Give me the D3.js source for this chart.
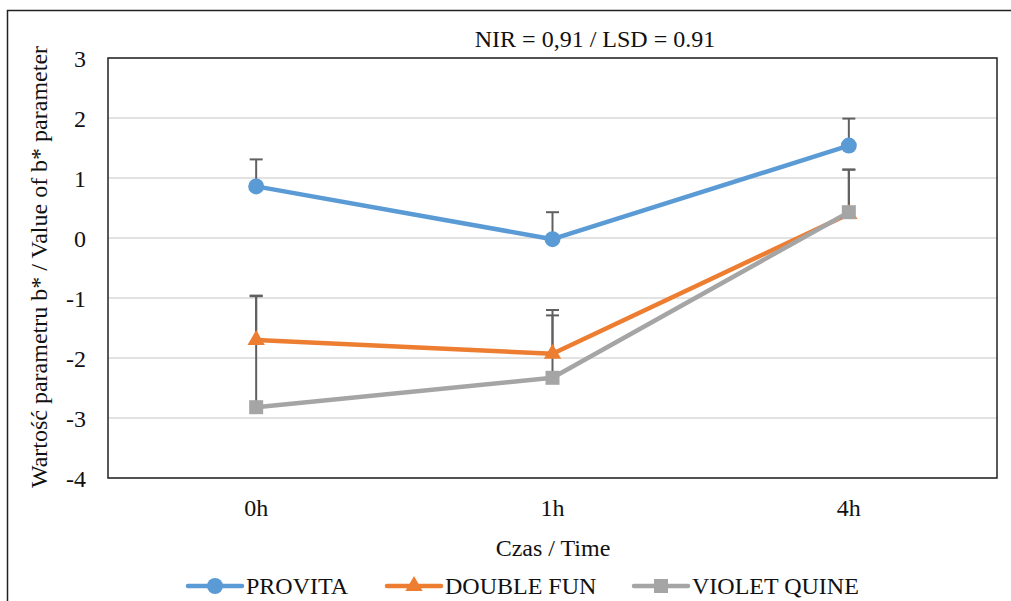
<!DOCTYPE html>
<html>
<head>
<meta charset="utf-8">
<script src="https://d3js.org/d3.v7.min.js"></script>
<style>
  body { margin: 0; background: #fff; }
</style>
</head>
<body>
<div id="chart"></div>
<script>
// data
var times = ['0h', '1h', '4h'];
var seriesNames = ['PROVITA', 'DOUBLE FUN', 'VIOLET QUINE'];
var provita = [0.86, -0.02, 1.54];
var doubleFun = [-1.70, -1.93, 0.40];
var violetQuine = [-2.82, -2.33, 0.43];
// upper error bar lengths
var provitaErr = [0.45, 0.45, 0.45];
var doubleFunErr = [0.74, 0.73, 0.74];
var violetQuineErr = [1.85, 1.04, 0.71];
var yTicks = [3, 2, 1, 0, -1, -2, -3, -4];
var colors = ['#5b9bd5', '#ed7d31', '#a5a5a5'];
var symbols = [d3.symbolCircle, d3.symbolTriangle, d3.symbolSquare];
var symbolSizes = [200, 130, 196];

var series = [
  {name: seriesNames[0], values: provita, err: provitaErr},
  {name: seriesNames[1], values: doubleFun, err: doubleFunErr},
  {name: seriesNames[2], values: violetQuine, err: violetQuineErr}
];

var FONT = 'Liberation Serif';
var width = 1011, height = 601;
var margin = {left: 108, top: 58, right: 14, bottom: 123};

var svg = d3.select('#chart').append('svg')
  .attr('width', width)
  .attr('height', height);

// outer frame
svg.append('rect')
  .attr('x', 7.5).attr('y', 10.5)
  .attr('width', width + 10).attr('height', height + 10)
  .attr('fill', 'none').attr('stroke', '#222').attr('stroke-width', 1.5);

var x = d3.scaleBand()
  .domain(times)
  .range([margin.left, width - margin.right]);

var y = d3.scaleLinear()
  .domain([-4, 3])
  .range([height - margin.bottom, margin.top]);

// gridlines
svg.append('g')
  .selectAll('line')
  .data(yTicks)
  .enter().append('line')
    .attr('x1', margin.left).attr('x2', width - margin.right)
    .attr('y1', d => y(d)).attr('y2', d => y(d))
    .attr('stroke', '#d9d9d9').attr('stroke-width', 1.5);

// plot border
svg.append('rect')
  .attr('x', margin.left).attr('y', margin.top)
  .attr('width', width - margin.right - margin.left)
  .attr('height', height - margin.bottom - margin.top)
  .attr('fill', 'none').attr('stroke', '#222').attr('stroke-width', 1.5);

// y tick labels
var yAxis = svg.append('g')
  .attr('transform', 'translate(' + (margin.left - 22) + ',0)')
  .call(d3.axisLeft(y).tickValues(yTicks).tickSize(0).tickFormat(d => String(d)));
yAxis.select('.domain').remove();
yAxis.selectAll('text')
  .attr('x', 0).attr('dy', '0.35em');

// x tick labels
var xAxis = svg.append('g')
  .attr('transform', 'translate(0,' + (height - margin.bottom + 18) + ')')
  .call(d3.axisBottom(x).tickSize(0));
xAxis.select('.domain').remove();

// titles
svg.append('text')
  .attr('x', 595).attr('y', 47)
  .attr('text-anchor', 'middle')
  .text('NIR = 0,91 / LSD = 0.91');

svg.append('text')
  .attr('x', 553).attr('y', 556)
  .attr('text-anchor', 'middle')
  .text('Czas / Time');

svg.append('text')
  .attr('transform', 'translate(47,' + 267 + ') rotate(-90)')
  .attr('text-anchor', 'middle')
  .text('Wartość parametru b* / Value of b* parameter');

var cx = function(i) { return x(times[i]) + x.bandwidth() / 2; };

var line = d3.line()
  .x((d, i) => cx(i))
  .y(d => y(d));

// lines
series.forEach(function(s, k) {
  svg.append('path')
    .datum(s.values)
    .attr('d', line)
    .attr('fill', 'none')
    .attr('stroke', colors[k])
    .attr('stroke-width', 4.5)
    .attr('stroke-linejoin', 'round')
    .attr('stroke-linecap', 'round');
});

// error bars (upper only)
series.forEach(function(s, k) {
  var g = svg.append('g');
  s.values.forEach(function(v, i) {
    g.append('line')
      .attr('x1', cx(i)).attr('x2', cx(i))
      .attr('y1', y(v)).attr('y2', y(v + s.err[i]))
      .attr('stroke', '#606060').attr('stroke-width', 2);
    g.append('line')
      .attr('x1', cx(i) - 6.5).attr('x2', cx(i) + 6.5)
      .attr('y1', y(v + s.err[i])).attr('y2', y(v + s.err[i]))
      .attr('stroke', '#606060').attr('stroke-width', 2);
  });
});

// markers
series.forEach(function(s, k) {
  svg.append('g')
    .selectAll('path')
    .data(s.values)
    .enter().append('path')
      .attr('transform', (d, i) => 'translate(' + cx(i) + ',' + y(d) + ')')
      .attr('d', d3.symbol().type(symbols[k]).size(symbolSizes[k]))
      .attr('fill', colors[k]);
});

// legend
var legendX = [188, 387, 634];
var legendY = 586;
series.forEach(function(s, k) {
  var g = svg.append('g').attr('transform', 'translate(' + legendX[k] + ',' + legendY + ')');
  g.append('line')
    .attr('x1', 0).attr('x2', 54)
    .attr('stroke', colors[k]).attr('stroke-width', 4.5)
    .attr('stroke-linecap', 'round');
  g.append('path')
    .attr('transform', 'translate(27,0)')
    .attr('d', d3.symbol().type(symbols[k]).size(symbolSizes[k]))
    .attr('fill', colors[k]);
  g.append('text')
    .attr('x', 58).attr('y', 8)
    .text(s.name);
});

// one font for every label
svg.selectAll('text')
  .attr('font-family', FONT)
  .attr('font-size', 24)
  .attr('fill', '#111')
  .style('font-family', FONT)
  .style('font-size', '24px');
</script>
</body>
</html>
